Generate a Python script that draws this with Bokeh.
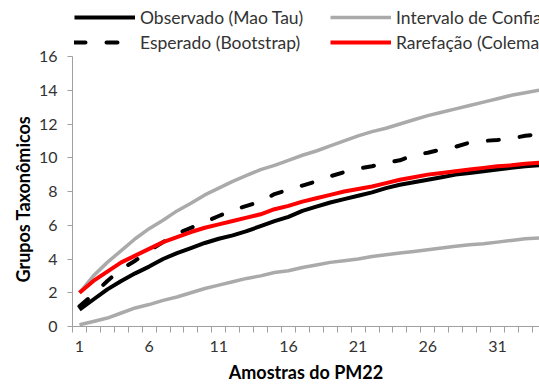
from bokeh.plotting import figure
from bokeh.models import Range1d, FixedTicker, Legend, LegendItem, Title
from bokeh.embed import file_html
from bokeh.resources import INLINE

amostras = list(range(1, 35))
observado = [1.0, 1.6, 2.2, 2.7, 3.15, 3.55, 4.0, 4.35, 4.65, 4.95, 5.2, 5.4, 5.65, 5.95,
             6.25, 6.5, 6.85, 7.1, 7.35, 7.55, 7.75, 7.95, 8.2, 8.4, 8.55, 8.7, 8.85, 9.0,
             9.1, 9.2, 9.3, 9.4, 9.5, 9.55]
esperado = [1.2, 1.9, 2.7, 3.4, 3.9, 4.5, 5.0, 5.5, 5.85, 6.2, 6.55, 6.9, 7.15, 7.4,
            7.85, 8.1, 8.35, 8.6, 8.9, 9.15, 9.35, 9.5, 9.7, 9.85, 10.15, 10.3, 10.5, 10.65,
            10.9, 11.0, 11.05, 11.15, 11.3, 11.4]
rarefacao = [2.0, 2.7, 3.25, 3.8, 4.2, 4.6, 5.0, 5.3, 5.6, 5.85, 6.05, 6.25, 6.45, 6.65,
             6.95, 7.15, 7.4, 7.6, 7.8, 8.0, 8.15, 8.3, 8.5, 8.7, 8.85, 9.0, 9.1, 9.2,
             9.3, 9.4, 9.5, 9.55, 9.65, 9.7]
ic_superior = [2.0, 3.0, 3.8, 4.5, 5.2, 5.8, 6.3, 6.85, 7.3, 7.8, 8.2, 8.6, 8.95, 9.3,
               9.55, 9.85, 10.15, 10.4, 10.7, 11.0, 11.3, 11.55, 11.75, 12.0, 12.25, 12.5,
               12.7, 12.9, 13.1, 13.3, 13.5, 13.7, 13.85, 14.0]
ic_inferior = [0.1, 0.3, 0.5, 0.8, 1.1, 1.3, 1.55, 1.75, 2.0, 2.25, 2.45, 2.65, 2.85, 3.0,
               3.2, 3.3, 3.5, 3.65, 3.8, 3.9, 4.0, 4.15, 4.25, 4.35, 4.45, 4.55, 4.65, 4.75,
               4.85, 4.9, 5.0, 5.1, 5.2, 5.25]
x_tick_labels = [1, 6, 11, 16, 21, 26, 31]
y_ticks = [0, 2, 4, 6, 8, 10, 12, 14, 16]
y_max = 16

FONT = "Lato"
GRAY = "#AAAAAA"
AXIS = "#A0A0A0"

# the frame reaches the top of the canvas so the legend can sit above the 0-16 axis
p = figure(width=539, height=387, output_backend="svg", toolbar_location=None,
           x_range=Range1d(0.5, 34.02), y_range=Range1d(0, 19.32),
           min_border_left=72, min_border_right=0, min_border_top=0, min_border_bottom=61)
p.xgrid.visible = False
p.ygrid.visible = False
p.outline_line_color = None
p.background_fill_color = "white"

r_low = p.line(amostras, ic_inferior, line_color=GRAY, line_width=3.5, line_join="round")
r_up = p.line(amostras, ic_superior, line_color=GRAY, line_width=3.5, line_join="round")
r_obs = p.line(amostras, observado, line_color="black", line_width=4, line_join="round")
r_esp = p.line(amostras, esperado, line_color="black", line_width=4, line_dash="11 21",
               line_cap="round", line_join="round")
r_rar = p.line(amostras, rarefacao, line_color="#FF0000", line_width=4, line_join="round")

xa = p.xaxis[0]
xa.ticker = FixedTicker(ticks=x_tick_labels, minor_ticks=[i + 0.5 for i in range(0, 35)])
xa.major_tick_out = 0
xa.major_tick_in = 0
xa.minor_tick_out = 6
xa.minor_tick_in = 0
xa.axis_line_color = AXIS
xa.minor_tick_line_color = AXIS
xa.major_tick_line_color = AXIS
xa.major_label_standoff = 8
xa.major_label_text_font = FONT
xa.major_label_text_font_size = "16px"
xa.major_label_text_color = "#333333"
xa.axis_label = "Amostras do PM22"
xa.axis_label_text_font = FONT
xa.axis_label_text_font_size = "18px"
xa.axis_label_text_font_style = "bold"
xa.axis_label_text_color = "black"
xa.axis_label_standoff = 6

ya = p.yaxis[0]
ya.ticker = FixedTicker(ticks=y_ticks)
ya.bounds = (0, y_max)
ya.major_tick_out = 5
ya.major_tick_in = 0
ya.minor_tick_out = 0
ya.minor_tick_in = 0
ya.axis_line_color = AXIS
ya.major_tick_line_color = AXIS
ya.major_label_standoff = 10
ya.major_label_text_font = FONT
ya.major_label_text_font_size = "16px"
ya.major_label_text_color = "#333333"

# y title centred on the 0-16 span (not on the taller frame)
ytitle = Title(text="Grupos Taxonômicos", align="left", offset=44, standoff=4,
               text_font=FONT, text_font_size="18px", text_font_style="bold",
               text_color="black")
p.add_layout(ytitle, "left")


def make_legend(items, loc):
    lg = Legend(items=items, location=loc, orientation="vertical")
    lg.glyph_width = 61
    lg.glyph_height = 22
    lg.label_height = 22
    lg.label_standoff = 5
    lg.spacing = 3
    lg.padding = 0
    lg.margin = 0
    lg.border_line_color = None
    lg.background_fill_alpha = 0
    lg.label_text_font = FONT
    lg.label_text_font_size = "17.5px"
    lg.label_text_color = "#333333"
    return lg


leg1 = make_legend([LegendItem(label="Observado (Mao Tau)", renderers=[r_obs]),
                    LegendItem(label="Esperado (Bootstrap)", renderers=[r_esp])], (2, 273))
leg2 = make_legend([LegendItem(label="Intervalo de Confiança (95%)", renderers=[r_up]),
                    LegendItem(label="Rarefação (Coleman)", renderers=[r_rar])], (258, 273))
p.add_layout(leg1)
p.add_layout(leg2)

open("out.html", "w").write(file_html(p, INLINE))
